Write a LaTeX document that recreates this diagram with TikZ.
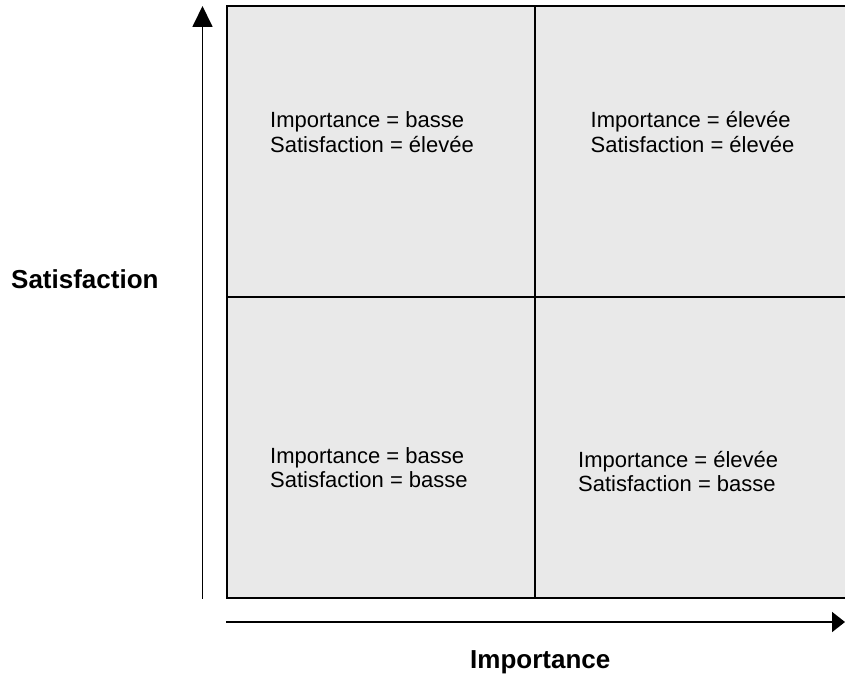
\documentclass[tikz,border=0pt]{standalone}
\usepackage{fontspec}
\setmainfont{Liberation Sans}
\usetikzlibrary{arrows.meta}
\definecolor{cellgray}{HTML}{E9E9E9}
\tikzset{
  cell/.style={fill=cellgray, draw=black, line width=2pt},
  celltext/.style={inner sep=0pt, anchor=base west, align=left, font=\fontsize{22}{24.4}\selectfont},
  axislabel/.style={inner sep=0pt, anchor=base west, font=\fontsize{26}{30}\selectfont\bfseries},
  axis/.style={line width=1.8pt, -{Triangle[length=21pt,width=20pt]}},
  haxis/.style={line width=1.8pt, -{Triangle[length=13pt,width=20pt]}}
}
\begin{document}
\begin{tikzpicture}[x=1pt,y=-1pt]
\useasboundingbox (0,0) rectangle (845,677);
% cells
\path[cell] (226.5,6.5) rectangle (534.5,296.5);
\path[cell] (534.5,6.5) rectangle (850,296.5);
\path[cell] (226.5,296.5) rectangle (534.5,598);
\path[cell] (534.5,296.5) rectangle (850,598);
% texts (base anchor = baseline of the last line)
\node[celltext] (tl) at (270,152.3) {Importance = basse\\Satisfaction = élevée};
\node[celltext] (tr) at (590.5,152.3) {Importance = élevée\\Satisfaction = élevée};
\node[celltext] (bl) at (270,487.7) {Importance = basse\\Satisfaction = basse};
\node[celltext] (br) at (578,491.5) {Importance = élevée\\Satisfaction = basse};
% axes
\coordinate (vs) at (202.5,598.5);
\coordinate (ve) at (202.5,6);
\coordinate (hs) at (226,622);
\coordinate (he) at (845,622);
\draw[axis] (vs) -- (ve);
\draw[haxis] (hs) -- (he);
\node[axislabel] (ylab) at (11,288.3) {Satisfaction};
\node[axislabel] (xlab) at (470,668) {Importance};
\end{tikzpicture}
\end{document}
